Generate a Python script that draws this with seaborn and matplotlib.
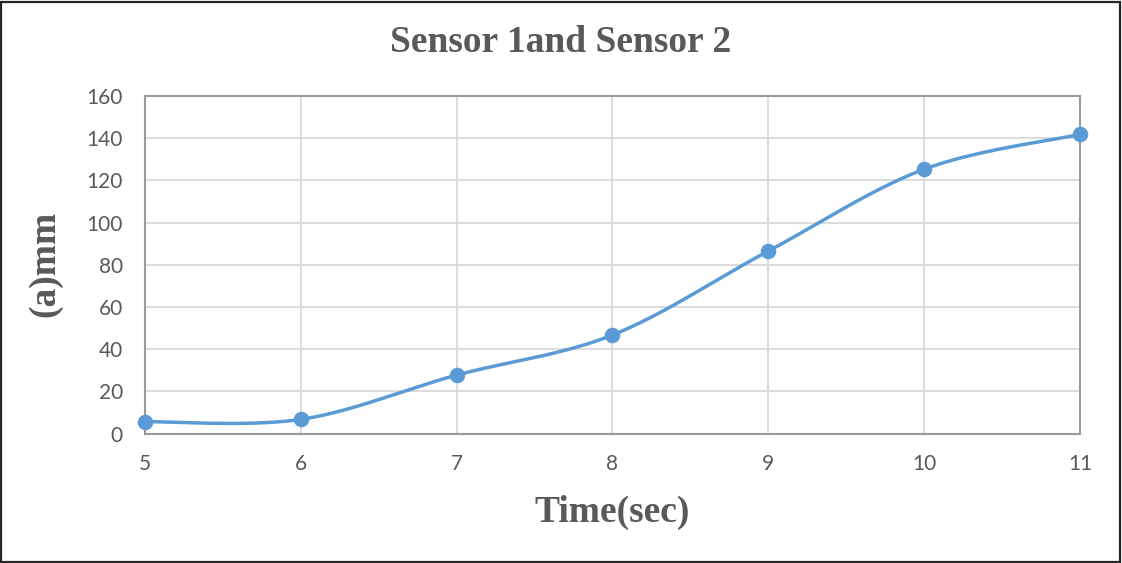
import numpy as np
import pandas as pd
import matplotlib
matplotlib.use("Agg")
import matplotlib.pyplot as plt
import seaborn as sns
from matplotlib.patches import Rectangle

# ---- data ----
time_sec = [5, 6, 7, 8, 9, 10, 11]
values_mm = [5.6, 6.7, 27.7, 46.7, 86.5, 125.3, 141.8]
title_text = "Sensor 1and Sensor 2"
x_label = "Time(sec)"
y_label = "(a)mm"
y_ticks = [0, 20, 40, 60, 80, 100, 120, 140, 160]

sns.set_theme(style="white")
plt.rcParams["font.family"] = ["Lato", "DejaVu Sans"]

LINE = "#5B9BD5"
TXT = "#595959"


def excel_smooth(xs, ys, n=40):
    """Bezier smoothing like Excel's smoothed line (Catmull-Rom based)."""
    P = np.column_stack([xs, ys]).astype(float)
    m = len(P)
    out = []
    for i in range(m - 1):
        p0 = P[i - 1] if i > 0 else P[i]
        p1 = P[i]
        p2 = P[i + 1]
        p3 = P[i + 2] if i + 2 < m else P[i + 1]
        c1 = p1 + (p2 - p0) / 6.0
        c2 = p2 - (p3 - p1) / 6.0
        t = np.linspace(0, 1, n, endpoint=(i == m - 2))[:, None]
        seg = ((1 - t) ** 3) * p1 + 3 * ((1 - t) ** 2) * t * c1 + 3 * (1 - t) * t ** 2 * c2 + t ** 3 * p2
        out.append(seg)
    arr = np.vstack(out)
    return arr[:, 0], arr[:, 1]


sx, sy = excel_smooth(time_sec, values_mm)
curve = pd.DataFrame({"x": sx, "y": sy})
pts = pd.DataFrame({"x": time_sec, "y": values_mm})

fig = plt.figure(figsize=(11.22, 5.63), dpi=100)
ax = fig.add_axes([145 / 1122, 1 - 433.5 / 563, (1080 - 145) / 1122, (433.5 - 96) / 563])

sns.lineplot(data=curve, x="x", y="y", sort=False, estimator=None, ax=ax,
             color=LINE, linewidth=2.5, zorder=3, clip_on=False)
sns.scatterplot(data=pts, x="x", y="y", ax=ax, color=LINE, s=125,
                edgecolor=LINE, linewidth=0, zorder=4, clip_on=False)

ax.set_xlim(5, 11)
ax.set_ylim(0, 160)
ax.set_xticks(time_sec)
ax.set_yticks(y_ticks)
ax.grid(True, color="#D9D9D9", linewidth=1.3)
ax.set_axisbelow(True)
for s in ax.spines.values():
    s.set_color("#9a9a9a")
    s.set_linewidth(1.5)
ax.tick_params(axis="both", length=0, labelsize=15, labelcolor=TXT)
ax.tick_params(axis="y", pad=16)
ax.tick_params(axis="x", pad=15)
ax.set_xlabel("")
ax.set_ylabel("")

fig.text(0.5, 1 - 43 / 563, title_text, ha="center", va="center",
         fontsize=27, fontweight="bold", color=TXT, family="Liberation Serif")
fig.text(612.5 / 1122, 1 - 512 / 563, x_label, ha="center", va="center",
         fontsize=27, fontweight="bold", color=TXT, family="Liberation Serif")
fig.text(45 / 1122, 1 - 264 / 563, y_label, ha="center", va="center", rotation=90,
         fontsize=27, fontweight="bold", color=TXT, family="Liberation Serif")

fig.patches.append(Rectangle((0.001, 0.002), 0.997, 0.995, transform=fig.transFigure,
                             fill=False, edgecolor="#262626", linewidth=1.6))

fig.savefig("out.png", dpi=100, facecolor="white")
